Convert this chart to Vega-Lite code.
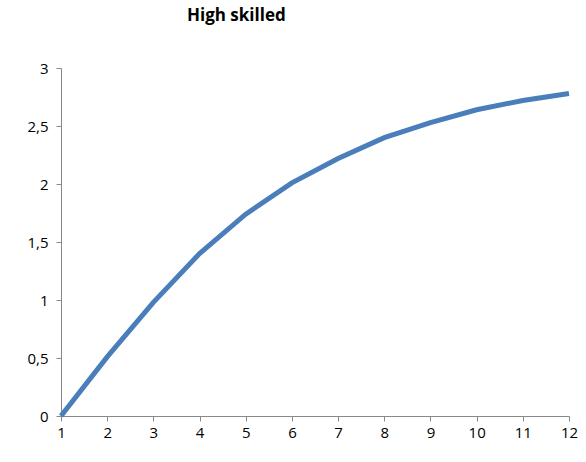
{
  "$schema": "https://vega.github.io/schema/vega-lite/v6.json",
  "width": 508,
  "height": 348,
  "autosize": {"type": "none"},
  "padding": {"left": 61, "top": 68, "right": 17, "bottom": 46},
  "background": "white",
  "title": {"text": "High skilled", "anchor": "start", "dx": 160, "offset": 36, "fontSize": 17, "font": "Open Sans", "fontWeight": "bold", "color": "black"},
  "data": {"values": [
    {"x": 1, "y": 0}, {"x": 2, "y": 0.51}, {"x": 3, "y": 0.98}, {"x": 4, "y": 1.4},
    {"x": 5, "y": 1.74}, {"x": 6, "y": 2.01}, {"x": 7, "y": 2.22}, {"x": 8, "y": 2.4},
    {"x": 9, "y": 2.53}, {"x": 10, "y": 2.64}, {"x": 11, "y": 2.72}, {"x": 12, "y": 2.78}
  ]},
  "config": {"view": {"stroke": null}},
  "mark": {"type": "line", "color": "#4a7ebb", "strokeWidth": 5},
  "encoding": {
    "x": {"field": "x", "type": "quantitative", "scale": {"domain": [1, 12], "nice": false},
      "axis": {"values": [1,2,3,4,5,6,7,8,9,10,11,12], "title": null, "grid": false, "labelFlush": false, "domainColor": "#888", "tickColor": "#888", "labelFont": "Open Sans", "labelFontSize": 15, "labelColor": "black", "labelPadding": 4}},
    "y": {"field": "y", "type": "quantitative", "scale": {"domain": [0, 3], "nice": false},
      "axis": {"values": [0, 0.5, 1, 1.5, 2, 2.5, 3], "title": null, "grid": false, "labelFlush": false, "domainColor": "#888", "tickColor": "#888", "labelFont": "Open Sans", "labelFontSize": 15, "labelColor": "black", "labelPadding": 8, "labelExpr": "replace(toString(datum.value), '.', ',')"}}
  }
}
